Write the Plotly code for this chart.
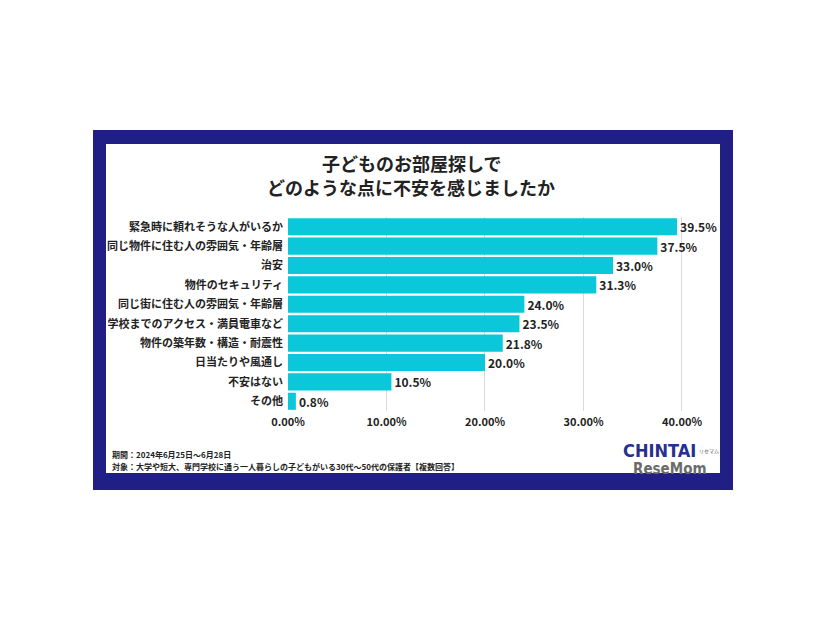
import plotly.graph_objects as go

categories = ["緊急時に頼れそうな人がいるか", "同じ物件に住む人の雰囲気・年齢層", "治安", "物件のセキュリティ",
              "同じ街に住む人の雰囲気・年齢層", "学校までのアクセス・満員電車など", "物件の築年数・構造・耐震性",
              "日当たりや風通し", "不安はない", "その他"]
values = [39.5, 37.5, 33.0, 31.3, 24.0, 23.5, 21.8, 20.0, 10.5, 0.8]
tick_vals = [0, 10, 20, 30, 40]
tick_text = ["0.00%", "10.00%", "20.00%", "30.00%", "40.00%"]
title_lines = ["子どものお部屋探しで", "どのような点に不安を感じましたか"]
footer_lines = ["期間：2024年6月25日～6月28日",
                "対象：大学や短大、専門学校に通う一人暮らしの子どもがいる30代～50代の保護者【複数回答】"]

NAVY = "#1f1f86"
CYAN = "#0bc7da"
FONT = "Noto Sans CJK JP"

fig = go.Figure(go.Bar(
    x=values, y=categories, orientation="h",
    marker=dict(color=CYAN, line=dict(width=0)),
    text=[f"{v:.1f}%" for v in values], textposition="outside",
    textfont=dict(family=FONT, size=12, color="#222222", weight="bold"),
    cliponaxis=False,
))

fig.update_layout(
    width=826, height=620,
    paper_bgcolor="white", plot_bgcolor="white",
    margin=dict(l=288, r=126, t=217, b=209),
    bargap=0.12,
    showlegend=False,
    font=dict(family=FONT, color="#222222"),
    xaxis=dict(range=[0, 41.83], tickvals=tick_vals, ticktext=tick_text,
               showgrid=True, gridcolor="#d9d9d9", gridwidth=1, zeroline=False,
               showline=False, ticks="", ticklabelstandoff=3,
               tickfont=dict(family=FONT, size=11, color="#222222", weight="bold")),
    yaxis=dict(categoryorder="array", categoryarray=categories[::-1],
               showgrid=False, zeroline=False, showline=False, ticks="",
               ticklabelstandoff=4,
               tickfont=dict(family=FONT, size=11, color="#222222", weight="bold")),
)

def px(x):
    return (x-288)/412
def py(y):
    return (411-y)/194

shapes = [
    dict(type="rect", xref="paper", yref="paper", layer="below",
         x0=px(93), x1=px(733), y0=py(490), y1=py(130),
         fillcolor=NAVY, line=dict(width=0)),
    dict(type="rect", xref="paper", yref="paper", layer="below",
         x0=px(106), x1=px(720), y0=py(473), y1=py(144),
         fillcolor="white", line=dict(width=0)),
]
fig.update_layout(shapes=shapes)

ann = []
ann.append(dict(text=title_lines[0], x=px(411), y=py(163), xref="paper", yref="paper",
                showarrow=False, xanchor="center", yanchor="middle",
                font=dict(family=FONT, size=18, color="#222222", weight="bold")))
ann.append(dict(text=title_lines[1], x=px(411), y=py(187), xref="paper", yref="paper",
                showarrow=False, xanchor="center", yanchor="middle",
                font=dict(family=FONT, size=18, color="#222222", weight="bold")))
ann.append(dict(text=footer_lines[0], x=px(110), y=py(454), xref="paper", yref="paper",
                showarrow=False, xanchor="left", yanchor="middle",
                font=dict(family=FONT, size=8, color="#222222", weight="bold")))
ann.append(dict(text=footer_lines[1], x=px(110), y=py(466), xref="paper", yref="paper",
                showarrow=False, xanchor="left", yanchor="middle",
                font=dict(family=FONT, size=8, color="#222222", weight="bold")))
# logo
ann.append(dict(text="CHINTAI", x=px(659), y=py(450), xref="paper", yref="paper",
                showarrow=False, xanchor="center", yanchor="middle",
                font=dict(family="DejaVu Sans Condensed", size=18, color="#26308f", weight="bold")))
ann.append(dict(text="ReseMom", x=px(670), y=py(469), xref="paper", yref="paper",
                showarrow=False, xanchor="center", yanchor="middle",
                font=dict(family="DejaVu Sans Condensed", size=15, color="#6b6b6b", weight="bold")))
ann.append(dict(text="リセマム", x=px(709), y=py(451), xref="paper", yref="paper",
                showarrow=False, xanchor="center", yanchor="middle",
                font=dict(family=FONT, size=5, color="#555555")))
fig.update_layout(annotations=ann)

fig.write_html("out.html")
